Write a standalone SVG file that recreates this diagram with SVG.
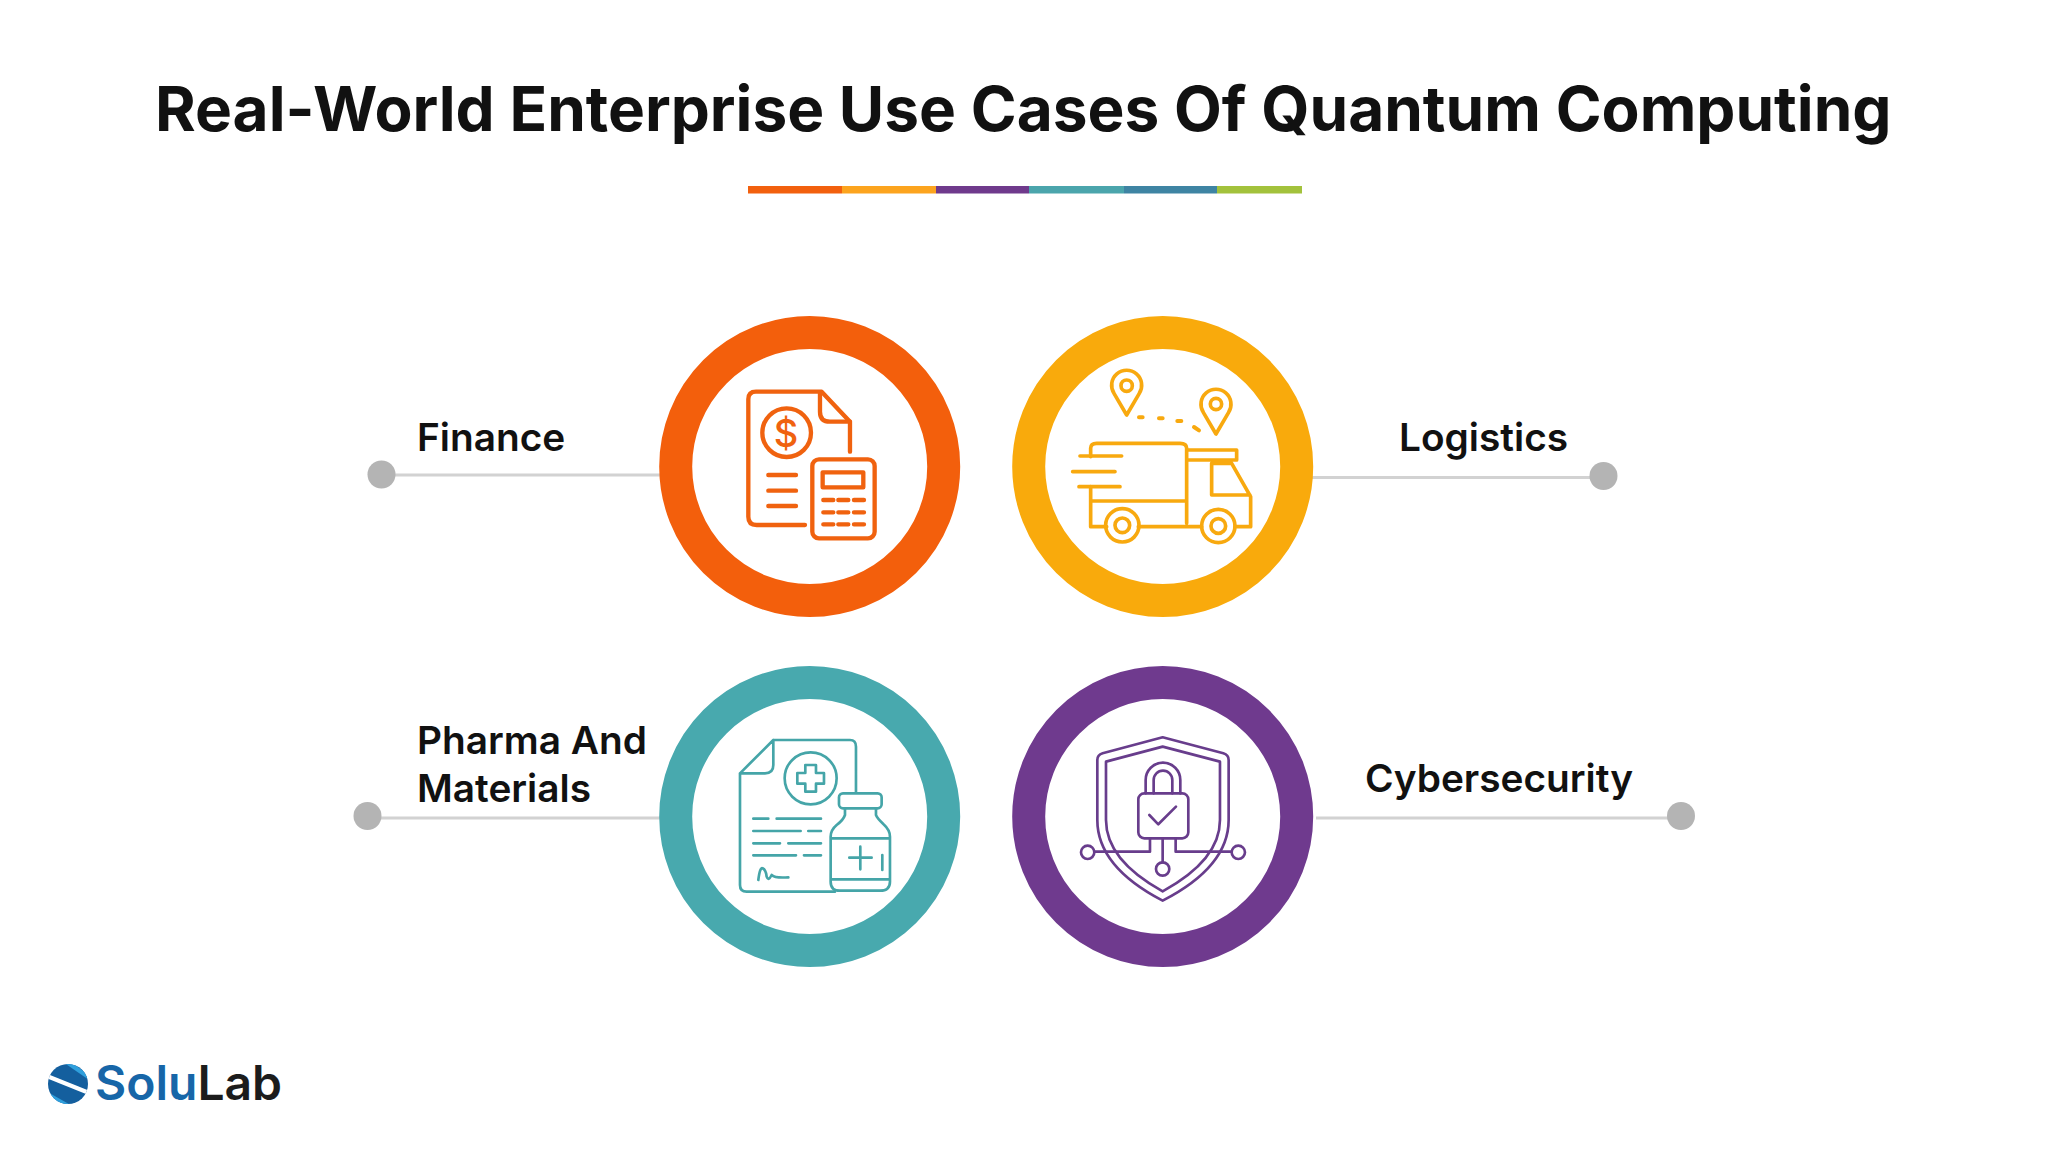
<svg xmlns="http://www.w3.org/2000/svg" width="2048" height="1152" viewBox="0 0 2048 1152">
<style>
.t{font-family:Inter,"Liberation Sans",sans-serif;fill:#111}
.title{font-size:62.100px;font-weight:700}
.lab{font-size:38.800px;font-weight:600}
.ring{fill:none;stroke-width:33}
.ic{fill:none;stroke-linecap:round;stroke-linejoin:round}
.ln{stroke:#d2d2d2;stroke-width:3;fill:none}
.dot{fill:#b4b4b4}
.logo{font-family:Inter,"Liberation Sans",sans-serif;font-size:48px;font-weight:600}
</style>
<rect width="2048" height="1152" fill="#fff"/>
<g id="title"><text class="t title" x="155" y="131">Real-World Enterprise Use Cases Of Quantum Computing</text>
<rect x="748" y="186" width="94" height="7.500" fill="#f2600e"/><rect x="842" y="186" width="94" height="7.500" fill="#fca41e"/><rect x="936" y="186" width="93" height="7.500" fill="#6f3a8c"/><rect x="1029" y="186" width="95" height="7.500" fill="#4ba5ac"/><rect x="1124" y="186" width="93" height="7.500" fill="#3e84a3"/><rect x="1217" y="186" width="85" height="7.500" fill="#a3c23c"/></g>
<g id="connectors">
<path class="ln" d="M381 475H670"/><circle class="dot" cx="381.500" cy="474.500" r="14"/>
<path class="ln" d="M1310 477.500H1604"/><circle class="dot" cx="1603.500" cy="476" r="14"/>
<path class="ln" d="M367 818H670"/><circle class="dot" cx="367.500" cy="816" r="14"/>
<path class="ln" d="M1316 818H1681"/><circle class="dot" cx="1681" cy="816" r="14"/>
</g>
<g id="finance"><circle class="ring" cx="809.700" cy="466.500" r="134" stroke="#f35f0c"/>
<g class="ic" stroke="#f0620f" stroke-width="13" transform="translate(640 300) scale(.3333)">
<path d="M495 675H350Q325 675 325 650V298Q325 275 348 275H545L630 365V455"/><path d="M540 280V335Q540 365 570 365H630"/><circle cx="440" cy="398" r="73"/>
<path d="M385 525H468M385 572H468M385 618H468"/><rect x="517" y="478" width="187" height="237" rx="20"/><rect x="548" y="517" width="122" height="45"/>
<path d="M550 600H580M595 600H625M642 600H672M550 637H580M595 637H625M642 637H672M550 673H580M595 673H625M642 673H672"/></g>
<text x="786" y="447" font-family="Inter,sans-serif" font-size="38" font-weight="500" fill="#f0620f" text-anchor="middle">$</text>
<text class="t lab" x="417" y="451">Finance</text></g>
<g id="logistics"><circle class="ring" cx="1162.700" cy="466.500" r="134" stroke="#f9aa0c"/>
<g class="ic" stroke="#f8a90f" stroke-width="11" transform="translate(1000 300) scale(.3333)">
<path d="M380 345L342 280A45 45 0 1 1 418 280Z"/><circle cx="380" cy="257" r="17"/><path d="M648 402L610 337A45 45 0 1 1 686 337Z"/><circle cx="648" cy="312" r="17"/>
<path stroke-width="12" d="M417 352H428M477 355H488M532 363H544M582 381L597 391"/>
<path d="M272 470V445Q272 430 290 430H540Q560 430 560 445V670M272 560V680H320M415 680H605M705 680H752V590L695 490H635V585H750M560 450H710V480H560M272 603H555"/>
<path d="M240 468H365M218 515H345M237 560H360"/>
<circle cx="367" cy="676" r="50"/><circle cx="367" cy="676" r="22"/><circle cx="655" cy="678" r="50"/><circle cx="655" cy="678" r="22"/></g>
<text class="t lab" x="1399" y="451">Logistics</text></g>
<g id="pharma"><circle class="ring" cx="809.700" cy="816.500" r="134" stroke="#48a9ae"/>
<g class="ic" stroke="#45a5a8" stroke-width="8" transform="translate(640 650) scale(.3333)">
<path d="M400 270H630Q648 270 648 290V425M300 370V705Q300 725 320 725H585M300 370L400 270V345Q400 370 375 370H300"/><circle cx="512" cy="385" r="78"/>
<path d="M496 345H528V369H552V401H528V425H496V401H472V369H496Z"/>
<path d="M340 506H385M410 506H543M340 543H482M505 543H543M340 580H420M445 580H543M340 616H468M492 616H543"/>
<path d="M355 690Q360 650 368 655Q378 660 380 680Q385 695 395 675Q405 685 445 682"/>
<rect x="597" y="430" width="128" height="45" rx="12"/>
<path d="M615 475V495Q610 510 590 525Q572 540 572 560V695Q572 722 600 722H720Q750 722 750 695V560Q750 540 730 522Q712 505 708 495V475M572 565H750M572 688H750M628 623H695M661 590V658M727 615V660"/></g>
<text class="t lab" x="417" y="754">Pharma And</text><text class="t lab" x="417" y="802">Materials</text></g>
<g id="cybersecurity"><circle class="ring" cx="1162.700" cy="816.500" r="134" stroke="#6f3a8e"/>
<g class="ic" stroke="#683d8c" stroke-width="8" transform="translate(1000 650) scale(.3333)">
<path d="M488 262L670 310Q686 315 686 330V510Q686 650 488 752Q292 650 292 510V330Q292 315 308 310Z"/><path d="M488 290L660 335V510Q660 630 488 724Q318 630 318 510V335Z"/>
<rect x="415" y="430" width="150" height="135" rx="18"/><path d="M437 430V390A52 52 0 0 1 541 390V430M461 430V390A28 28 0 0 1 517 390V430"/><path d="M448 495L475 523L528 470"/>
<path d="M450 565V605H283M527 565V605H695M488 565V637"/><circle cx="263" cy="607" r="20"/><circle cx="715" cy="607" r="20"/><circle cx="488" cy="657" r="20"/></g>
<text class="t lab" x="1365" y="792">Cybersecurity</text></g>
<g id="logo"><defs><clipPath id="sph"><circle cx="68" cy="1084" r="20"/></clipPath></defs>
<g clip-path="url(#sph)"><rect x="48" y="1064" width="40" height="40" fill="#145f9e"/>
<path d="M60 1060L92 1082L92 1077L68 1060Z" fill="#2f9fdc"/><path d="M44 1090L76 1108L68 1108L44 1095Z" fill="#2f9fdc"/>
<path d="M46 1078L50 1075L90 1091L86 1094Z" fill="#fff"/></g>
<text class="logo" x="95" y="1100"><tspan fill="#1766a8">Solu</tspan><tspan fill="#1c1c1c">Lab</tspan></text></g>
</svg>
